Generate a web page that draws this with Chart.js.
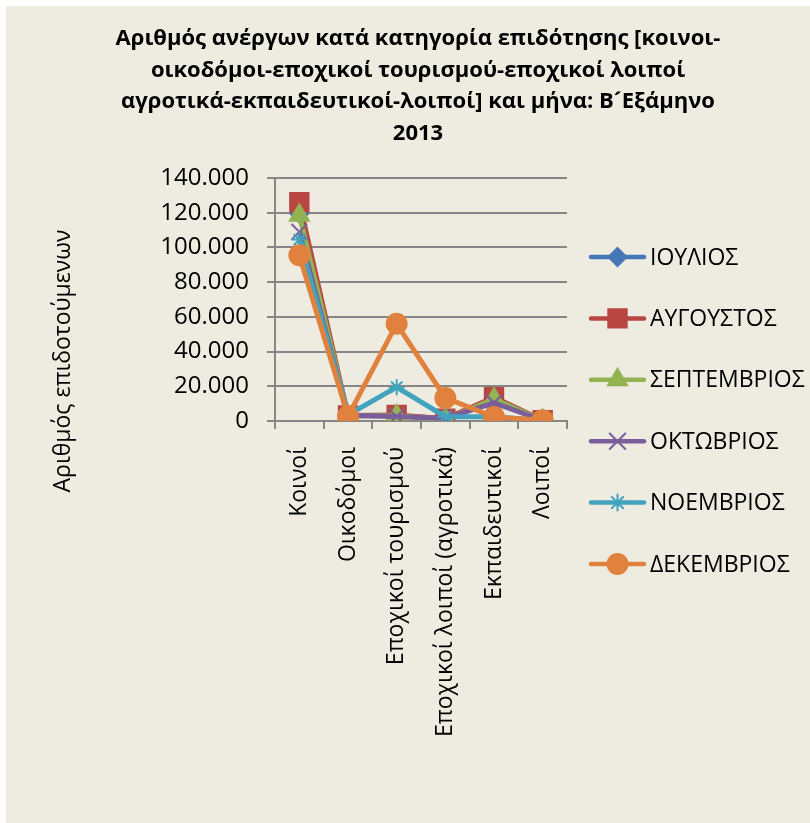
<!DOCTYPE html>
<html>
<head>
<meta charset="utf-8">
<script src="https://cdn.jsdelivr.net/npm/chart.js@4/dist/chart.umd.min.js"></script>
<style>
  html, body { margin: 0; padding: 0; background: #fff; }
  #wrap { width: 810px; height: 823px; }
</style>
</head>
<body>
<div id="wrap"><canvas id="myChart" width="810" height="823"></canvas></div>
<script>
const ctx = document.getElementById('myChart');

const titleLines = [
  'Αριθμός ανέργων κατά κατηγορία επιδότησης [κοινοι-',
  'οικοδόμοι-εποχικοί τουρισμού-εποχικοί λοιποί',
  'αγροτικά-εκπαιδευτικοί-λοιποί] και μήνα: Β\u00B4Εξάμηνο',
  '2013'
];
const yTitle = 'Αριθμός επιδοτούμενων';

const categories = [
  'Κοινοί',
  'Οικοδόμοι',
  'Εποχικοί τουρισμού',
  'Εποχικοί λοιποί (αγροτικά)',
  'Εκπαιδευτικοί',
  'Λοιποί'
];

const months = ['ΙΟΥΛΙΟΣ', 'ΑΥΓΟΥΣΤΟΣ', 'ΣΕΠΤΕΜΒΡΙΟΣ', 'ΟΚΤΩΒΡΙΟΣ', 'ΝΟΕΜΒΡΙΟΣ', 'ΔΕΚΕΜΒΡΙΟΣ'];

const iouliosValues    = [119500, 3000, 3000, 1500, 11500, 400];
const avgoustosValues  = [126000, 3200, 3500, 1300, 13700, 400];
const septemvriosValues = [118500, 3000, 3000, 800, 12700, 300];
const oktovriosValues  = [109000, 3300, 2600, 1500, 10500, 400];
const noemvriosValues  = [104500, 3500, 19500, 2500, 2500, 300];
const dekemvriosValues = [95500, 2700, 56000, 13300, 2300, 500];

const yTicks = [0, 20000, 40000, 60000, 80000, 100000, 120000, 140000];

const seriesValues = [iouliosValues, avgoustosValues, septemvriosValues, oktovriosValues, noemvriosValues, dekemvriosValues];
const colors = ['#4677b6', '#b84643', '#93b352', '#7a5e9c', '#41a3be', '#e0823d'];
const markers = [
  { style: 'rectRot', radius: 9 },
  { style: 'rect', radius: 13 },
  { style: 'triangle', radius: 11 },
  { style: 'crossRot', radius: 11 },
  { style: 'star', radius: 8 },
  { style: 'circle', radius: 10 }
];

const gridColor = '#868686';
const font = "'Open Sans', sans-serif";

function fmt(v) {
  return String(v).replace(/\B(?=(\d{3})+(?!\d))/g, '.');
}

function drawMarker(c, m, color, x, y) {
  c.save();
  c.fillStyle = color;
  c.strokeStyle = color;
  c.lineWidth = 2;
  Chart.helpers.drawPoint(c, { pointStyle: m.style, radius: m.radius, rotation: 0, borderWidth: 2 }, x, y);
  c.restore();
}

// background, title, axis title and legend
const decor = {
  id: 'decor',
  beforeDraw(chart) {
    const c = chart.ctx;
    c.save();
    c.fillStyle = '#eeece1';
    c.fillRect(6, 6, 804, 817);
    c.restore();
  },
  afterDraw(chart) {
    const c = chart.ctx;
    c.save();
    c.fillStyle = '#000';
    c.textAlign = 'center';
    c.textBaseline = 'middle';
    c.font = 'bold 22px ' + font;
    titleLines.forEach((t, i) => c.fillText(t, 418, 39 + i * 31.5));

    c.save();
    c.translate(63, 361);
    c.rotate(-Math.PI / 2);
    c.font = '23px ' + font;
    c.fillText(yTitle, 0, 0);
    c.restore();

    c.textAlign = 'left';
    c.font = '23px ' + font;
    months.forEach((name, i) => {
      const y = 257 + i * 61.4;
      c.strokeStyle = colors[i];
      c.lineWidth = 4.5;
      c.lineCap = 'round';
      c.beginPath();
      c.moveTo(591, y);
      c.lineTo(644, y);
      c.stroke();
      drawMarker(c, markers[i], colors[i], 617.5, y);
      c.fillStyle = '#000';
      c.fillText(name, 650, y + 1);
    });
    c.restore();
  }
};

const datasets = months.map((name, i) => ({
  label: name,
  data: seriesValues[i],
  borderColor: colors[i],
  backgroundColor: colors[i],
  borderWidth: 5,
  pointStyle: markers[i].style,
  pointRadius: markers[i].radius,
  pointBorderWidth: 2,
  pointBackgroundColor: colors[i],
  pointBorderColor: colors[i],
  tension: 0,
  order: months.length - 1 - i
}));

const myChart = new Chart(ctx, {
  type: 'line',
  data: { labels: categories, datasets: datasets },
  plugins: [decor],
  options: {
    responsive: false,
    animation: false,
    layout: { padding: { left: 0, top: 178, right: 243, bottom: 0 } },
    plugins: {
      legend: { display: false },
      title: { display: false },
      tooltip: { enabled: false }
    },
    scales: {
      x: {
        offset: true,
        afterFit: s => { s.height = 402; },
        grid: { offset: true, drawOnChartArea: false, drawTicks: true, tickLength: 8, color: gridColor, lineWidth: 2 },
        border: { display: true, color: gridColor, width: 2 },
        ticks: {
          autoSkip: false,
          minRotation: 90,
          maxRotation: 90,
          padding: 18,
          color: '#000',
          font: { family: font, size: 23 }
        }
      },
      y: {
        min: 0,
        max: 140000,
        afterFit: s => { s.width = 275; },
        afterBuildTicks: s => { s.ticks = yTicks.map(v => ({ value: v })); },
        grid: { color: gridColor, lineWidth: 2, tickLength: 8 },
        border: { display: true, color: gridColor, width: 2 },
        ticks: {
          padding: 18,
          color: '#000',
          font: { family: font, size: 24 },
          callback: v => fmt(v)
        }
      }
    }
  }
});
</script>
</body>
</html>
